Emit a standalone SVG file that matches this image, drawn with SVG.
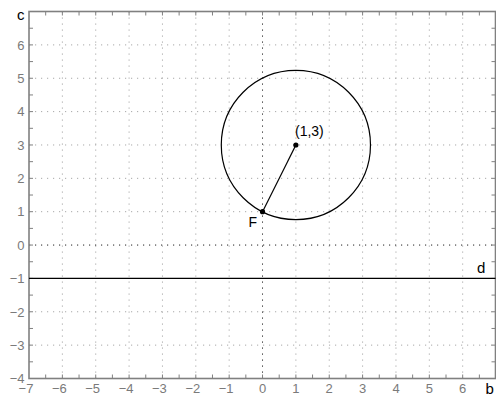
<svg xmlns="http://www.w3.org/2000/svg" width="496" height="396" viewBox="0 0 496 396">
<style>
.grid{stroke:#a8a8a8;stroke-width:1;stroke-dasharray:1.2 4.8;fill:none}
.axis0{stroke:#222;stroke-width:1;stroke-dasharray:1.2 4.8;fill:none}
.frame{stroke:#808080;stroke-width:1.6;fill:none}
.tick{stroke:#808080;stroke-width:1;fill:none}
.tl{font-family:"Liberation Sans",Arial,sans-serif;font-size:13px;fill:#7a7a7a}
.yl{text-anchor:end}
.xl{text-anchor:middle}
.lbl{font-family:"Liberation Sans",Arial,sans-serif;font-size:15px;fill:#000}
.plt{stroke:#000;stroke-width:1.2;fill:none}
</style>
<rect width="496" height="396" fill="#fff"/>
<g id="grid">
<path class="grid" d="M62.36 11.5V378.5M95.72 11.5V378.5M129.08 11.5V378.5M162.44 11.5V378.5M195.8 11.5V378.5M229.16 11.5V378.5M295.88 11.5V378.5M329.24 11.5V378.5M362.6 11.5V378.5M395.96 11.5V378.5M429.32 11.5V378.5M462.68 11.5V378.5"/>
<path class="grid" d="M29 345.14H495.5M29 311.78H495.5M29 211.7H495.5M29 178.34H495.5M29 144.98H495.5M29 111.62H495.5M29 78.26H495.5M29 44.9H495.5"/>
<path class="axis0" d="M262.52 11.5V378.5M29 245.06H495.5"/>
</g>
<g id="axes">
<rect class="frame" x="29" y="11.5" width="466.5" height="367"/>
<path class="tick" d="M45.68 378.5v-4M62.36 378.5v-4M79.04 378.5v-4M95.72 378.5v-4M112.4 378.5v-4M129.08 378.5v-4M145.76 378.5v-4M162.44 378.5v-4M179.12 378.5v-4M195.8 378.5v-4M212.48 378.5v-4M229.16 378.5v-4M245.84 378.5v-4M262.52 378.5v-4M279.2 378.5v-4M295.88 378.5v-4M312.56 378.5v-4M329.24 378.5v-4M345.92 378.5v-4M362.6 378.5v-4M379.28 378.5v-4M395.96 378.5v-4M412.64 378.5v-4M429.32 378.5v-4M446 378.5v-4M462.68 378.5v-4M479.36 378.5v-4"/>
<path class="tick" d="M45.68 11.5v4M62.36 11.5v4M79.04 11.5v4M95.72 11.5v4M112.4 11.5v4M129.08 11.5v4M145.76 11.5v4M162.44 11.5v4M179.12 11.5v4M195.8 11.5v4M212.48 11.5v4M229.16 11.5v4M245.84 11.5v4M262.52 11.5v4M279.2 11.5v4M295.88 11.5v4M312.56 11.5v4M329.24 11.5v4M345.92 11.5v4M362.6 11.5v4M379.28 11.5v4M395.96 11.5v4M412.64 11.5v4M429.32 11.5v4M446 11.5v4M462.68 11.5v4M479.36 11.5v4"/>
<path class="tick" d="M29 361.82h4M29 345.14h4M29 328.46h4M29 311.78h4M29 295.1h4M29 278.42h4M29 261.74h4M29 245.06h4M29 228.38h4M29 211.7h4M29 195.02h4M29 178.34h4M29 161.66h4M29 144.98h4M29 128.3h4M29 111.62h4M29 94.94h4M29 78.26h4M29 61.58h4M29 44.9h4M29 28.22h4"/>
<path class="tick" d="M495.5 361.82h-4M495.5 345.14h-4M495.5 328.46h-4M495.5 311.78h-4M495.5 295.1h-4M495.5 278.42h-4M495.5 261.74h-4M495.5 245.06h-4M495.5 228.38h-4M495.5 211.7h-4M495.5 195.02h-4M495.5 178.34h-4M495.5 161.66h-4M495.5 144.98h-4M495.5 128.3h-4M495.5 111.62h-4M495.5 94.94h-4M495.5 78.26h-4M495.5 61.58h-4M495.5 44.9h-4M495.5 28.22h-4"/>
<g class="tl yl">
<text x="24.5" y="382.8">−4</text>
<text x="24.5" y="349.8">−3</text>
<text x="24.5" y="316.5">−2</text>
<text x="24.5" y="283.1">−1</text>
<text x="24.5" y="249.8">0</text>
<text x="24.5" y="216.4">1</text>
<text x="24.5" y="183">2</text>
<text x="24.5" y="149.7">3</text>
<text x="24.5" y="116.3">4</text>
<text x="24.5" y="83">5</text>
<text x="24.5" y="49.6">6</text>
</g>
<g class="tl xl">
<text x="26" y="393.3">−7</text>
<text x="59.4" y="393.3">−6</text>
<text x="92.7" y="393.3">−5</text>
<text x="126.1" y="393.3">−4</text>
<text x="159.4" y="393.3">−3</text>
<text x="192.8" y="393.3">−2</text>
<text x="226.2" y="393.3">−1</text>
<text x="262.5" y="393.3">0</text>
<text x="295.9" y="393.3">1</text>
<text x="329.2" y="393.3">2</text>
<text x="362.6" y="393.3">3</text>
<text x="396" y="393.3">4</text>
<text x="429.3" y="393.3">5</text>
<text x="462.7" y="393.3">6</text>
</g>
<text class="lbl" x="17" y="20">c</text>
<text class="lbl" x="485.5" y="393.5">b</text>
</g>
<g id="line-d">
<line class="plt" x1="29" y1="278.42" x2="495.5" y2="278.42"/>
<text class="lbl" x="477" y="272.5">d</text>
</g>
<g id="circle">
<circle class="plt" cx="295.88" cy="144.98" r="74.6"/>
</g>
<g id="connectors">
<line class="plt" x1="295.88" y1="144.98" x2="262.52" y2="211.7"/>
</g>
<g id="center">
<circle cx="295.88" cy="144.98" r="2.6" fill="#000"/>
<text class="lbl" x="295" y="136" style="font-size:14px">(1,3)</text>
</g>
<g id="F">
<circle cx="262.52" cy="211.7" r="2.6" fill="#000"/>
<text class="lbl" x="248.5" y="226.5" style="font-size:14px">F</text>
</g>
</svg>
